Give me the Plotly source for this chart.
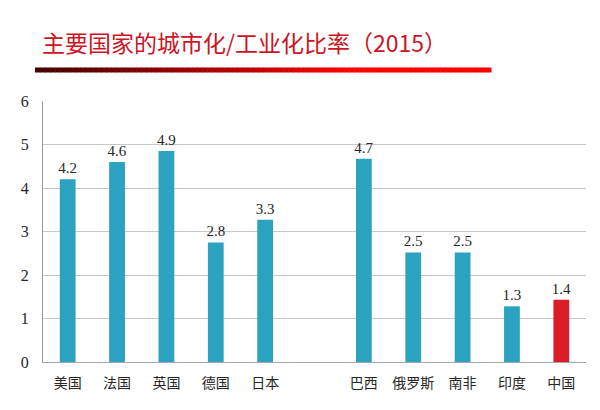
import plotly.graph_objects as go

countries = ["美国", "法国", "英国", "德国", "日本", "巴西", "俄罗斯", "南非", "印度", "中国"]
ratios = [4.2, 4.6, 4.85, 2.75, 3.27, 4.67, 2.52, 2.52, 1.28, 1.43]
value_labels = ["4.2", "4.6", "4.9", "2.8", "3.3", "4.7", "2.5", "2.5", "1.3", "1.4"]
category_order = ["美国", "法国", "英国", "德国", "日本", " ", "巴西", "俄罗斯", "南非", "印度", "中国"]
y_ticks = [0, 1, 2, 3, 4, 5, 6]
title_text = "主要国家的城市化/工业化比率（2015）"

blue = "#2CA2C1"
red = "#D91E27"
colors = [red if c == "中国" else blue for c in countries]

# page has an 8px body margin; work in page pixel coordinates
OFF = 8
W, H = 600 - OFF, 410 - OFF
PL, PR, PT, PB = 43 - OFF, 586 - OFF, 101 - OFF, 362 - OFF
pw, ph = PR - PL, PB - PT


def px(x):
    return (x - OFF - PL) / pw


def py(y):
    return (PB - (y - OFF)) / ph


fig = go.Figure()
fig.add_trace(go.Bar(
    x=countries, y=ratios, marker_color=colors, marker_line_width=0,
    width=0.32, text=value_labels, textposition="outside", cliponaxis=False,
    constraintext="none",
    textfont=dict(family="Liberation Serif", size=15, color="#262626"),
))

# gradient underline built from narrow rectangles
shapes = []
n = 90
x0, x1 = 35, 491
dark = (70, 0, 0)
bright = (255, 0, 0)
for i in range(n):
    t = i / (n - 1)
    t2 = min(1.0, t / 0.7)
    c = tuple(int(dark[k] + (bright[k] - dark[k]) * t2) for k in range(3))
    xa = x0 + (x1 - x0) * i / n
    xb = x0 + (x1 - x0) * (i + 1) / n + 0.5
    shapes.append(dict(type="rect", xref="paper", yref="paper",
                       x0=px(xa), x1=px(xb), y0=py(72.5), y1=py(67.5),
                       fillcolor="rgb(%d,%d,%d)" % c, line_width=0, layer="above"))

fig.update_layout(
    width=W, height=H,
    margin=dict(l=PL, r=W - PR, t=PT, b=H - PB),
    paper_bgcolor="white", plot_bgcolor="white",
    showlegend=False,
    shapes=shapes,
    annotations=[dict(text=title_text, xref="paper", yref="paper",
                      x=px(40), y=py(42), xanchor="left", yanchor="middle",
                      showarrow=False,
                      font=dict(family="Noto Sans CJK SC", size=23, color="#CC1424"))],
    xaxis=dict(type="category", categoryorder="array", categoryarray=category_order,
               range=[-0.5, 10.5], showgrid=False, showline=True, linecolor="#A6A6A6",
               linewidth=1, ticks="", ticklabelstandoff=8,
               tickfont=dict(family="Noto Sans CJK SC", size=14, color="#262626")),
    yaxis=dict(range=[0, 6], tickvals=y_ticks, showgrid=True, gridcolor="#C8C8C8",
               gridwidth=1, showline=True, linecolor="#9A9A9A", linewidth=1,
               zeroline=False, ticks="", ticklabelstandoff=10,
               tickfont=dict(family="Liberation Serif", size=16, color="#262626")),
)

fig.write_html("out.html")
